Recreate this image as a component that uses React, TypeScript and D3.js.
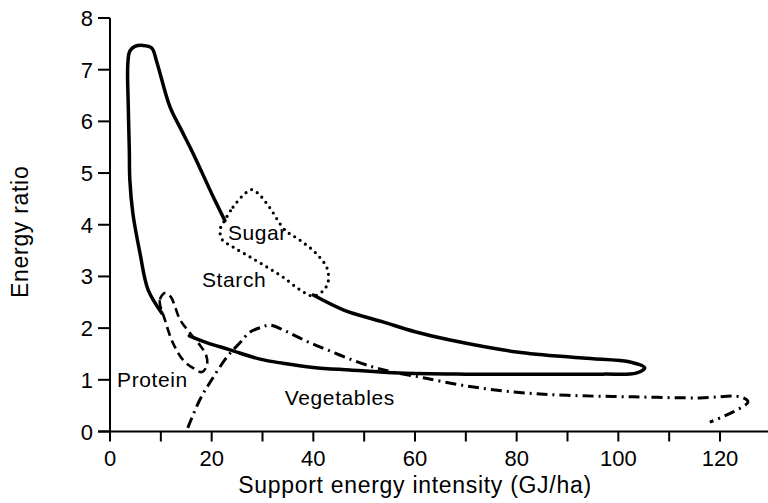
import React from 'react';
import * as d3 from 'd3';

type Pt = [number, number];

// x: support energy intensity (GJ/ha), y: energy ratio
const starchUpper: Pt[] = [
  [10.2, 2.29], [7.5, 2.74], [5.9, 3.45], [4.5, 4.22], [3.9, 4.87], [3.8, 5.44],
  [3.6, 6.28], [3.5, 7.1], [3.9, 7.36], [4.9, 7.45], [6.5, 7.47], [8.2, 7.42],
  [9.2, 7.15], [11.8, 6.28], [14, 5.84], [16.3, 5.39], [20.3, 4.54], [22.6, 4.08]
];

const starchLower: Pt[] = [
  [40, 2.64], [46, 2.35], [53.7, 2.12], [60, 1.93], [66.9, 1.77], [80, 1.54],
  [93, 1.42], [102.5, 1.34], [105.2, 1.23], [103.5, 1.13], [97, 1.11], [86.6, 1.11],
  [70, 1.11], [57, 1.13], [47.2, 1.19], [40, 1.24], [34, 1.32], [29.5, 1.4],
  [23.6, 1.58], [19, 1.72], [15.6, 1.85]
];

const sugar: Pt[] = [
  [22.6, 4.09], [24.2, 4.34], [26.5, 4.6], [27.9, 4.68], [29.5, 4.57], [31.5, 4.32],
  [34.4, 3.9], [37.4, 3.7], [40.5, 3.45], [42.7, 3.16], [42.9, 2.89], [41.9, 2.72],
  [40, 2.62], [37.4, 2.74], [34, 2.99], [30.9, 3.18], [27.5, 3.38], [24.2, 3.57],
  [22, 3.72], [21.7, 3.92]
];

const protein: Pt[] = [
  [10.8, 2.68], [9.8, 2.54], [10.8, 2.16], [12.4, 1.71], [14.4, 1.38], [16.3, 1.23],
  [18.1, 1.15], [19.1, 1.29], [18.9, 1.48], [17.7, 1.67], [15.7, 1.91], [13.8, 2.16],
  [12.8, 2.41], [12.0, 2.6]
];

const vegetables: Pt[] = [
  [15.3, 0.07], [17.7, 0.62], [20, 1.0], [23, 1.44], [25.6, 1.72], [27.5, 1.92],
  [29.9, 2.02], [31.5, 2.06], [34.8, 1.93], [38.8, 1.74], [42.7, 1.58], [47.8, 1.38],
  [52, 1.24], [55.7, 1.15], [61.6, 1.04], [70.2, 0.88], [80, 0.76], [90, 0.7],
  [102.9, 0.67], [116, 0.65], [124, 0.67], [125.5, 0.57], [122.6, 0.38], [118, 0.18]
];

const labels: { text: string; x: number; y: number }[] = [
  { text: 'Sugar', x: 23.2, y: 3.7 },
  { text: 'Starch', x: 18.1, y: 2.79 },
  { text: 'Protein', x: 1.4, y: 0.86 },
  { text: 'Vegetables', x: 34.4, y: 0.51 }
];

const xTicks = d3.range(0, 121, 10);
const xLabels = d3.range(0, 121, 20);
const yTicks = d3.range(0, 9, 1);

const W = 768;
const H = 503;
const font = '"Liberation Sans", Arial, sans-serif';

export default function App() {
  const x = d3.scaleLinear().domain([0, 120]).range([110, 720]);
  const y = d3.scaleLinear().domain([0, 8]).range([431.5, 18]);

  const open = d3.line<Pt>().x(d => x(d[0])).y(d => y(d[1])).curve(d3.curveCatmullRom.alpha(0.5));
  const closed = d3.line<Pt>().x(d => x(d[0])).y(d => y(d[1])).curve(d3.curveCatmullRomClosed.alpha(0.5));

  return (
    <svg width={W} height={H} style={{ position: 'absolute', left: 0, top: 0, background: '#fff' }}
      fontFamily={font}>
      {/* axes */}
      <line x1={x(0)} x2={x(0)} y1={y(0)} y2={y(8)} stroke="#000" strokeWidth={2} />
      <line x1={x(0) - 12} x2={W} y1={y(0)} y2={y(0)} stroke="#000" strokeWidth={2} />
      {yTicks.map(t => (
        <g key={'y' + t}>
          <line x1={x(0) - 12} x2={x(0)} y1={y(t)} y2={y(t)} stroke="#000" strokeWidth={2} />
          <text x={x(0) - 17} y={y(t) + 8} fontSize={22} textAnchor="end">{t}</text>
        </g>
      ))}
      {xTicks.map(t => (
        <line key={'x' + t} x1={x(t)} x2={x(t)} y1={y(0)} y2={y(0) + 10} stroke="#000" strokeWidth={2} />
      ))}
      {xLabels.map(t => (
        <text key={'xl' + t} x={x(t)} y={466} fontSize={22} textAnchor="middle">{t}</text>
      ))}
      <text x={(x(0) + x(120)) / 2} y={493} fontSize={23} letterSpacing={0.7} textAnchor="middle">
        Support energy intensity (GJ/ha)
      </text>
      <text transform="translate(28,298) rotate(-90)" fontSize={23} letterSpacing={0.7} textAnchor="start">
        Energy ratio
      </text>

      {/* curves */}
      <path d={open(starchUpper) || ''} fill="none" stroke="#000" strokeWidth={3.5} strokeLinecap="round" />
      <path d={open(starchLower) || ''} fill="none" stroke="#000" strokeWidth={3.5} strokeLinecap="round" />
      <path d={closed(sugar) || ''} fill="none" stroke="#000" strokeWidth={3.2}
        strokeDasharray="0 6.5" strokeLinecap="round" />
      <path d={closed(protein) || ''} fill="none" stroke="#000" strokeWidth={2.6} strokeDasharray="9 5" />
      <path d={open(vegetables) || ''} fill="none" stroke="#000" strokeWidth={3}
        strokeDasharray="11 5 2 5" />

      {labels.map(l => (
        <text key={l.text} x={x(l.x)} y={y(l.y)} fontSize={21} letterSpacing={0.6}>{l.text}</text>
      ))}
    </svg>
  );
}
